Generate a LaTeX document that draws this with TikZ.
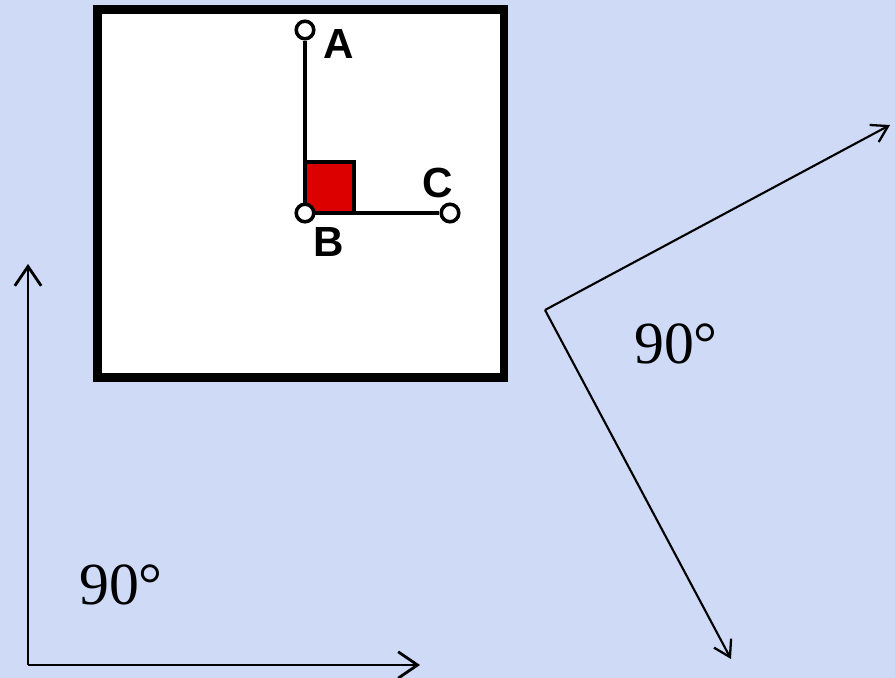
\documentclass[tikz,border=0pt]{standalone}
\usepackage{fontspec}
\setmainfont{Liberation Serif}
\newfontfamily\labelfont{Liberation Sans}
\usepackage{xcolor}
\usetikzlibrary{arrows.meta}
\definecolor{paper}{RGB}{206,218,246}
\definecolor{squarered}{RGB}{221,0,0}
\tikzset{
  ray/.style={draw=black, line width=1.6pt, -{Straight Barb[length=11pt, width=15pt, line width=1.6pt]}},
  thinray/.style={draw=black, line width=1.2pt, -{Straight Barb[length=9pt, width=11pt, line width=1.3pt]}},
  frame/.style={draw=black, fill=white, line width=5.1pt},
  arm/.style={draw=black, line width=2.4pt},
  pin/.style={circle, draw=black, fill=white, line width=2pt, minimum size=10pt, inner sep=0pt},
  corner/.style={draw=black, fill=squarered, line width=2.2pt},
  pointlabel/.style={font=\labelfont\bfseries\fontsize{24}{26}\selectfont, inner sep=0pt},
  anglelabel/.style={font=\fontsize{34}{38}\selectfont, inner sep=0pt}
}

\begin{document}
\begin{tikzpicture}[x=0.02cm, y=-0.02cm]
  % background, sized like the reference
  \fill[paper] (0,0) rectangle (895,678);
  \useasboundingbox (0,0) rectangle (895,678);

  % framed panel with the right angle ABC
  \draw[frame] (97.5,9.5) rectangle (504,377.5);
  \draw[corner] (305,162) rectangle (354,213);
  \node[pin] (A) at (305,30) {};
  \node[pin] (B) at (305,213) {};
  \node[pin] (C) at (450,213) {};
  \draw[arm] (A) -- (B);
  \draw[arm] (B) -- (C);
  \node[pointlabel] (labA) at (339,44) {A};
  \node[pointlabel] (labB) at (329,242) {B};
  \node[pointlabel] (labC) at (438,183) {C};

  % upright right angle
  \coordinate (O1) at (28,665);
  \coordinate (O1top) at (28,264);
  \coordinate (O1right) at (420,665);
  \draw[ray] (O1) -- (O1top);
  \draw[ray] (O1) -- (O1right);
  \node[anglelabel] (ang1) at (121,585) {90°};

  % turned right angle
  \coordinate (O2) at (545,310);
  \coordinate (O2up) at (890,125);
  \coordinate (O2down) at (731,659);
  \draw[thinray] (O2) -- (O2up);
  \draw[thinray] (O2) -- (O2down);
  \node[anglelabel] (ang2) at (676,344) {90°};
\end{tikzpicture}
\end{document}
